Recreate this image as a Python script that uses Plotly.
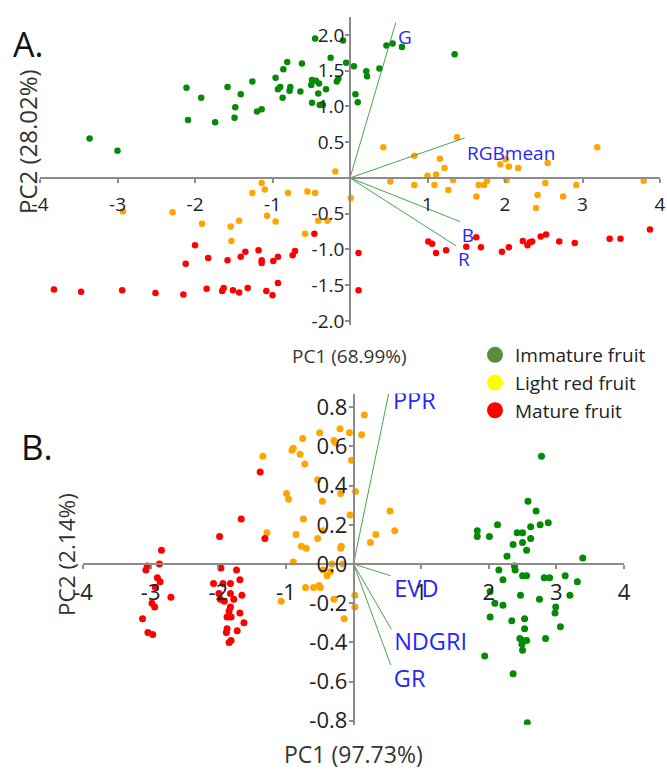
import plotly.graph_objects as go

# ---------------- DATA ----------------
# Panel A (PC1 68.99%, PC2 28.02%)
a_imm_x = [-0.45, -0.25, -0.81, -0.62, -0.86, -0.96, -1.26, -0.49, -0.44, -0.40, -0.15, -2.11, -1.58, -0.90,
           -0.93, -0.77, -0.78, -0.64, -0.50, -0.41, -0.31, -1.41, -1.92, -0.87, -0.49, -0.39, -1.48, -1.20,
           -1.14, -2.09, -1.74, -1.49, -3.36, -3.00, -0.09, 0.47, 0.55, 0.67, -0.05, 0.05, 0.21, 0.22, 0.38,
           -0.17, 0.07, 0.10, 1.35, -0.35]
a_imm_y = [1.95, 1.68, 1.62, 1.60, 1.52, 1.40, 1.35, 1.37, 1.36, 1.32, 1.39, 1.26, 1.27, 1.27,
           1.24, 1.27, 1.22, 1.21, 1.30, 1.18, 1.24, 1.17, 1.12, 1.12, 1.05, 1.02, 0.99, 0.93,
           0.96, 0.81, 0.78, 0.84, 0.55, 0.38, 1.92, 1.85, 1.88, 1.83, 1.61, 1.56, 1.49, 1.42, 1.53,
           1.35, 1.17, 1.06, 1.73, 1.02]

a_light_x = [1.38, 0.43, 3.19, 0.83, 1.16, -0.19, 1.22, 1.00, 1.11, 1.94, 2.01, 2.05, 2.17, 2.55, 0.52, 0.83,
             1.09, 1.33, 1.27, 1.66, 1.73, 1.77, 2.02, 2.52, 2.92, 3.79, 0.01, 1.63, 2.42, 2.75, 2.40, -1.14,
             -1.10, -1.26, -0.80, -0.55, -0.45, -1.07, -0.96, -1.43, -0.41, -0.29, -0.58, -1.54, -1.53, -2.93,
             -2.29, -1.91]
a_light_y = [0.57, 0.43, 0.43, 0.31, 0.27, 0.09, 0.14, 0.03, 0.05, 0.19, 0.26, 0.16, 0.14, 0.21, -0.05, -0.10,
             -0.10, -0.03, -0.17, -0.10, -0.10, -0.04, -0.03, -0.07, -0.10, -0.04, -0.28, -0.26, -0.24, -0.26,
             -0.42, -0.07, -0.16, -0.21, -0.21, -0.19, -0.21, -0.53, -0.61, -0.60, -0.60, -0.60, -0.78, -0.68,
             -0.88, -0.47, -0.48, -0.64]

a_mat_x = [-0.46, -2.00, -2.12, -1.83, -1.58, -1.41, -1.35, -1.18, -1.14, -1.14, -0.99, -0.93, -0.74, -0.71,
           -3.82, -3.47, -2.94, -2.51, -2.15, -1.85, -1.65, -1.63, -1.51, -1.43, -1.32, -1.08, -1.00, -0.93,
           0.11, 0.11, 1.01, 1.06, 1.11, 1.24, 1.50, 1.63, 1.69, 1.96, 2.05, 2.23, 2.29, 2.32, 2.35, 2.46,
           2.53, 2.70, 2.90, 3.35, 3.49, 3.87]
a_mat_y = [-0.78, -0.94, -1.20, -1.12, -1.15, -1.10, -1.03, -1.01, -1.15, -1.19, -1.16, -1.10, -1.08, -1.02,
           -1.56, -1.59, -1.57, -1.61, -1.63, -1.55, -1.58, -1.54, -1.57, -1.60, -1.54, -1.58, -1.64, -1.47,
           -1.05, -1.57, -0.89, -0.92, -1.05, -1.01, -0.96, -0.83, -0.97, -1.03, -0.97, -0.88, -0.94, -0.90,
           -0.89, -0.82, -0.79, -0.89, -0.91, -0.85, -0.85, -0.72]

a_vec_names = ["G", "RGBmean", "B", "R"]
a_vec_x = [0.59, 1.48, 1.42, 1.37]
a_vec_y = [2.17, 0.56, -0.61, -0.95]
a_lab_x = [0.71, 2.08, 1.52, 1.47]
a_lab_y = [1.94, 0.32, -0.83, -1.17]

a_xticks = [-4, -3, -2, -1, 1, 2, 3, 4]
a_yticks = [-2.0, -1.5, -1.0, -0.5, 0.5, 1.0, 1.5, 2.0]

# Panel B (PC1 97.73%, PC2 2.14%)
b_imm_x = [2.78, 2.58, 2.70, 1.83, 1.83, 2.01, 2.13, 2.42, 2.50, 2.62, 2.76, 2.88, 2.62, 2.50, 2.36, 2.27,
           2.56, 2.38, 2.39, 3.39, 2.15, 2.21, 2.50, 2.56, 2.82, 2.90, 3.13, 3.31, 2.02, 2.47, 2.75, 3.20,
           2.09, 2.21, 2.99, 2.98, 2.02, 2.34, 2.53, 3.06, 2.53, 2.46, 2.50, 2.56, 2.84, 2.49, 2.50, 1.94,
           2.36, 2.57]
b_imm_y = [0.55, 0.32, 0.27, 0.17, 0.14, 0.14, 0.20, 0.16, 0.16, 0.19, 0.20, 0.21, 0.13, 0.11, 0.10, 0.04,
           0.07, -0.01, -0.03, 0.03, -0.03, -0.08, -0.06, -0.06, -0.07, -0.07, -0.06, -0.09, -0.14, -0.16,
           -0.18, -0.16, -0.20, -0.21, -0.22, -0.25, -0.27, -0.29, -0.28, -0.32, -0.33, -0.38, -0.39, -0.39,
           -0.38, -0.41, -0.44, -0.47, -0.56, -0.81]

b_light_x = [0.16, 0.12, -0.20, -0.06, -0.50, -0.75, -0.29, -0.27, -0.89, -0.91, -1.34, -0.79, -0.72, -0.03,
             -0.53, -0.99, -0.96, -0.19, 0.03, -0.46, 0.54, 0.61, -0.05, -0.74, -0.45, -1.28, -0.85, -0.53,
             0.33, 0.25, -0.77, -0.70, -0.18, -0.19, -0.89, -0.45, -0.34, -0.39, -0.16, -0.71, -0.51, -0.59,
             -0.49, -1.07, -0.29, -0.32, 0.02, 0.02, -0.14]
b_light_y = [0.76, 0.66, 0.69, 0.67, 0.67, 0.64, 0.63, 0.62, 0.59, 0.58, 0.55, 0.56, 0.51, 0.53,
             0.43, 0.36, 0.33, 0.36, 0.37, 0.32, 0.27, 0.17, 0.25, 0.23, 0.17, 0.16, 0.15, 0.13,
             0.15, 0.11, 0.09, 0.08, 0.09, 0.08, 0.01, -0.03, -0.04, -0.06, 0.00, -0.12, -0.11, -0.12,
             -0.12, -0.19, -0.18, 0.00, -0.16, -0.22, -0.28]

b_mat_x = [-1.38, -1.66, -1.98, -1.31, -2.84, -3.05, -2.87, -3.07, -2.90, -2.86, -2.70, -2.98, -2.94, -3.12,
           -3.04, -2.97, -2.93, -1.96, -1.73, -2.07, -1.93, -1.82, -1.68, -1.99, -1.97, -1.91, -1.82, -1.77,
           -1.65, -1.82, -1.84, -1.87, -1.81, -1.68, -1.62, -1.87, -1.88, -1.72, -1.81, -1.84]
b_mat_y = [0.47, 0.23, 0.14, 0.13, 0.07, -0.01, 0.00, -0.03, -0.07, -0.09, -0.17, -0.20, -0.22, -0.28,
           -0.35, -0.36, -0.12, -0.02, -0.03, -0.10, -0.10, -0.10, -0.08, -0.15, -0.18, -0.19, -0.15, -0.18,
           -0.16, -0.22, -0.24, -0.27, -0.27, -0.25, -0.30, -0.33, -0.35, -0.34, -0.39, -0.40]

b_vec_names = ["PPR", "EVD", "NDGRI", "GR"]
b_vec_x = [0.52, 0.55, 0.56, 0.55]
b_vec_y = [0.87, -0.06, -0.333, -0.515]
b_lab_x = [0.90, 0.93, 1.14, 0.83]
b_lab_y = [0.82, -0.14, -0.41, -0.60]

b_xticks = [-4, -3, -2, -1, 1, 2, 3, 4]
b_yticks = [-0.8, -0.6, -0.4, -0.2, 0.0, 0.2, 0.4, 0.6, 0.8]

legend_names = ["Immature fruit", "Light red fruit", "Mature fruit"]
legend_colors = ["#5B8C3C", "#FFFF00", "#FF0000"]
point_colors = ["#048A04", "#FFA500", "#FF0000"]

# ---------------- LAYOUT GEOMETRY ----------------
W, H = 667, 771
FONT = "Open Sans"
a_xr = [-4.0, 4.0]
a_yr = [-2.05, 2.25]
b_xr = [-4.0, 4.0]
b_yr = [-0.82, 0.87]

a_xdom = [40 / W, 660 / W]
a_ydom = [(H - 324.6) / H, (H - 17) / H]
b_xdom = [83 / W, 624 / W]
b_ydom = [(H - 724.7) / H, (H - 393.5) / H]


def zero_pos(dom, rng):
    return dom[0] + (0 - rng[0]) / (rng[1] - rng[0]) * (dom[1] - dom[0])


fig = go.Figure()

groups_a = [(a_imm_x, a_imm_y), (a_light_x, a_light_y), (a_mat_x, a_mat_y)]
groups_b = [(b_imm_x, b_imm_y), (b_light_x, b_light_y), (b_mat_x, b_mat_y)]

for (gx, gy), col in zip(groups_a, point_colors):
    fig.add_trace(go.Scatter(x=gx, y=gy, mode="markers", xaxis="x", yaxis="y",
                             marker=dict(size=6.5, color=col), showlegend=False, hoverinfo="skip"))
for (gx, gy), col in zip(groups_b, point_colors):
    fig.add_trace(go.Scatter(x=gx, y=gy, mode="markers", xaxis="x2", yaxis="y2",
                             marker=dict(size=7, color=col), showlegend=False, hoverinfo="skip"))

# loading vectors
for vx, vy in zip(a_vec_x, a_vec_y):
    fig.add_trace(go.Scatter(x=[0, vx], y=[0, vy], mode="lines", xaxis="x", yaxis="y",
                             line=dict(color="rgba(40,150,40,0.85)", width=1), showlegend=False,
                             hoverinfo="skip"))
for vx, vy in zip(b_vec_x, b_vec_y):
    fig.add_trace(go.Scatter(x=[0, vx], y=[0, vy], mode="lines", xaxis="x2", yaxis="y2",
                             line=dict(color="rgba(40,150,40,0.85)", width=1), showlegend=False,
                             hoverinfo="skip"))

fig.add_trace(go.Scatter(x=a_lab_x, y=a_lab_y, text=a_vec_names, mode="text", xaxis="x", yaxis="y",
                         textfont=dict(family=FONT, size=19, color="#2626FF"), showlegend=False,
                         hoverinfo="skip"))
fig.add_trace(go.Scatter(x=b_lab_x, y=b_lab_y, text=b_vec_names, mode="text", xaxis="x2", yaxis="y2",
                         textfont=dict(family=FONT, size=23.5, color="#2626FF"), showlegend=False,
                         hoverinfo="skip"))

# legend entries
for name, col in zip(legend_names, legend_colors):
    fig.add_trace(go.Scatter(x=[None], y=[None], mode="markers", name=name, xaxis="x", yaxis="y",
                             marker=dict(size=20, color=col)))

axis_common = dict(showgrid=False, zeroline=False, showline=True, linecolor="#8C8C8C", linewidth=1.5,
                   ticks="outside", ticklen=4, tickcolor="#8C8C8C", tickwidth=1.5, anchor="free",
                   automargin=False)

fig.update_layout(
    width=W, height=H,
    margin=dict(l=0, r=0, t=0, b=0, autoexpand=False),
    paper_bgcolor="white", plot_bgcolor="white",
    font=dict(family=FONT, color="#222222"),
    xaxis=dict(domain=a_xdom, range=a_xr, position=zero_pos(a_ydom, a_yr), tickvals=a_xticks,
               ticktext=[str(v) for v in a_xticks], tickfont=dict(size=19), ticklabelstandoff=5,
               **axis_common),
    yaxis=dict(domain=a_ydom, range=a_yr, position=zero_pos(a_xdom, a_xr), tickvals=a_yticks,
               ticktext=["%.1f" % v for v in a_yticks], tickfont=dict(size=19), ticklabelstandoff=-3,
               **axis_common),
    xaxis2=dict(domain=b_xdom, range=b_xr, position=zero_pos(b_ydom, b_yr), tickvals=b_xticks,
                ticktext=[str(v) for v in b_xticks], tickfont=dict(size=22), ticklabelstandoff=5,
                **axis_common),
    yaxis2=dict(domain=b_ydom, range=b_yr, position=zero_pos(b_xdom, b_xr), tickvals=b_yticks,
                ticktext=["%.1f" % v for v in b_yticks], tickfont=dict(size=22), ticklabelstandoff=-3,
                **axis_common),
    legend=dict(x=475 / W, y=(H - 336) / H, xanchor="left", yanchor="top",
                font=dict(family=FONT, size=19, color="#222222"), bgcolor="rgba(0,0,0,0)",
                itemsizing="trace", tracegroupgap=0),
)

ann = [
    dict(text="A.", x=11 / W, y=(H - 44) / H, xanchor="left", yanchor="middle", font=dict(size=34, color="#111")),
    dict(text="B.", x=19 / W, y=(H - 447) / H, xanchor="left", yanchor="middle", font=dict(size=35, color="#111")),
    dict(text="PC2 (28.02%)", x=27 / W, y=(H - 142) / H, textangle=-90, xanchor="center", yanchor="middle",
         font=dict(size=24, color="#333")),
    dict(text="PC1 (68.99%)", x=350 / W, y=(H - 356) / H, xanchor="center", yanchor="middle",
         font=dict(size=19, color="#333")),
    dict(text="PC2 (2.14%)", x=66 / W, y=(H - 555) / H, textangle=-90, xanchor="center", yanchor="middle",
         font=dict(size=22.5, color="#333")),
    dict(text="PC1 (97.73%)", x=353 / W, y=(H - 754) / H, xanchor="center", yanchor="middle",
         font=dict(size=23, color="#333")),
]
for a in ann:
    a.update(xref="paper", yref="paper", showarrow=False)
    a["font"]["family"] = FONT
fig.update_layout(annotations=ann)

fig.write_html("out.html", config={"displayModeBar": False},
               post_script="document.body.style.margin='0px';document.body.style.padding='0px';")
